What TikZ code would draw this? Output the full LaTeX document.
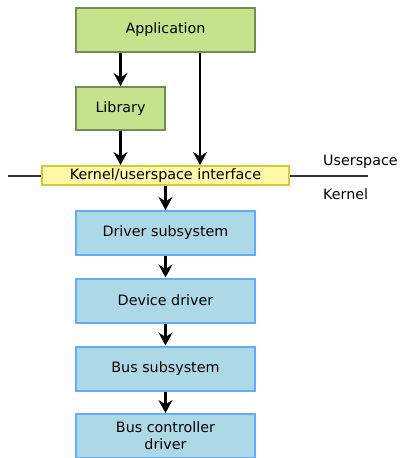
\documentclass[tikz,border=0pt]{standalone}
\usepackage{fontspec}
\setmainfont{DejaVu Sans}
\usetikzlibrary{arrows.meta}
\definecolor{gfill}{HTML}{C5E28C}
\definecolor{gdraw}{HTML}{6F8F52}
\definecolor{yfill}{HTML}{FFF8A6}
\definecolor{ydraw}{HTML}{D9C92E}
\definecolor{bfill}{HTML}{ADD8E6}
\definecolor{bdraw}{HTML}{66AAFF}
\tikzset{
  box/.style={draw, line width=2pt, minimum height=44pt, inner sep=0pt, align=center, font=\fontsize{14.3}{17}\selectfont},
  gbox/.style={box, fill=gfill, draw=gdraw},
  bbox/.style={box, fill=bfill, draw=bdraw, minimum width=179pt},
  arr/.style={line width=2.2pt, -{Stealth[length=13pt,width=14pt,inset=4.5pt]}},
  lbl/.style={anchor=west, inner sep=0pt, font=\fontsize{14.3}{17}\selectfont}
}
\begin{document}
\begin{tikzpicture}[x=1pt,y=-1pt]
\useasboundingbox (0,0) rectangle (400,458);
\fill[white] (0,0) rectangle (400,458);
\coordinate (L) at (8,176);
\coordinate (R) at (368,176);
\draw[line width=2.2pt, black!80] (L) -- (R);
\node[gbox, minimum width=179pt] (app) at (165.5,30) {Application};
\node[gbox, minimum width=89pt, minimum height=43pt] (lib) at (120.5,108.5) {Library};
\node[box, fill=yfill, draw=ydraw, minimum width=247pt, minimum height=19pt] (ifc) at (165.5,175.5) {Kernel/userspace interface};
\node[bbox] (drs) at (165.5,233) {Driver subsystem};
\node[bbox] (dev) at (165.5,300.5) {Device driver};
\node[bbox] (bus) at (165.5,368.5) {Bus subsystem};
\node[bbox] (bcd) at (165.5,436) {Bus controller\\driver};
\node[lbl] (us) at (323,162) {Userspace};
\node[lbl] (kn) at (323,194) {Kernel};
\draw[arr] (app.south -| lib) -- (lib.north);
\draw[arr] (app.south -| 200,0) -- (ifc.north -| 200,0);
\draw[arr] (lib.south) -- (ifc.north -| lib);
\draw[arr] (ifc.south) -- (drs.north);
\draw[arr] (drs.south) -- (dev.north);
\draw[arr] (dev.south) -- (bus.north);
\draw[arr] (bus.south) -- (bcd.north);
\end{tikzpicture}
\end{document}
